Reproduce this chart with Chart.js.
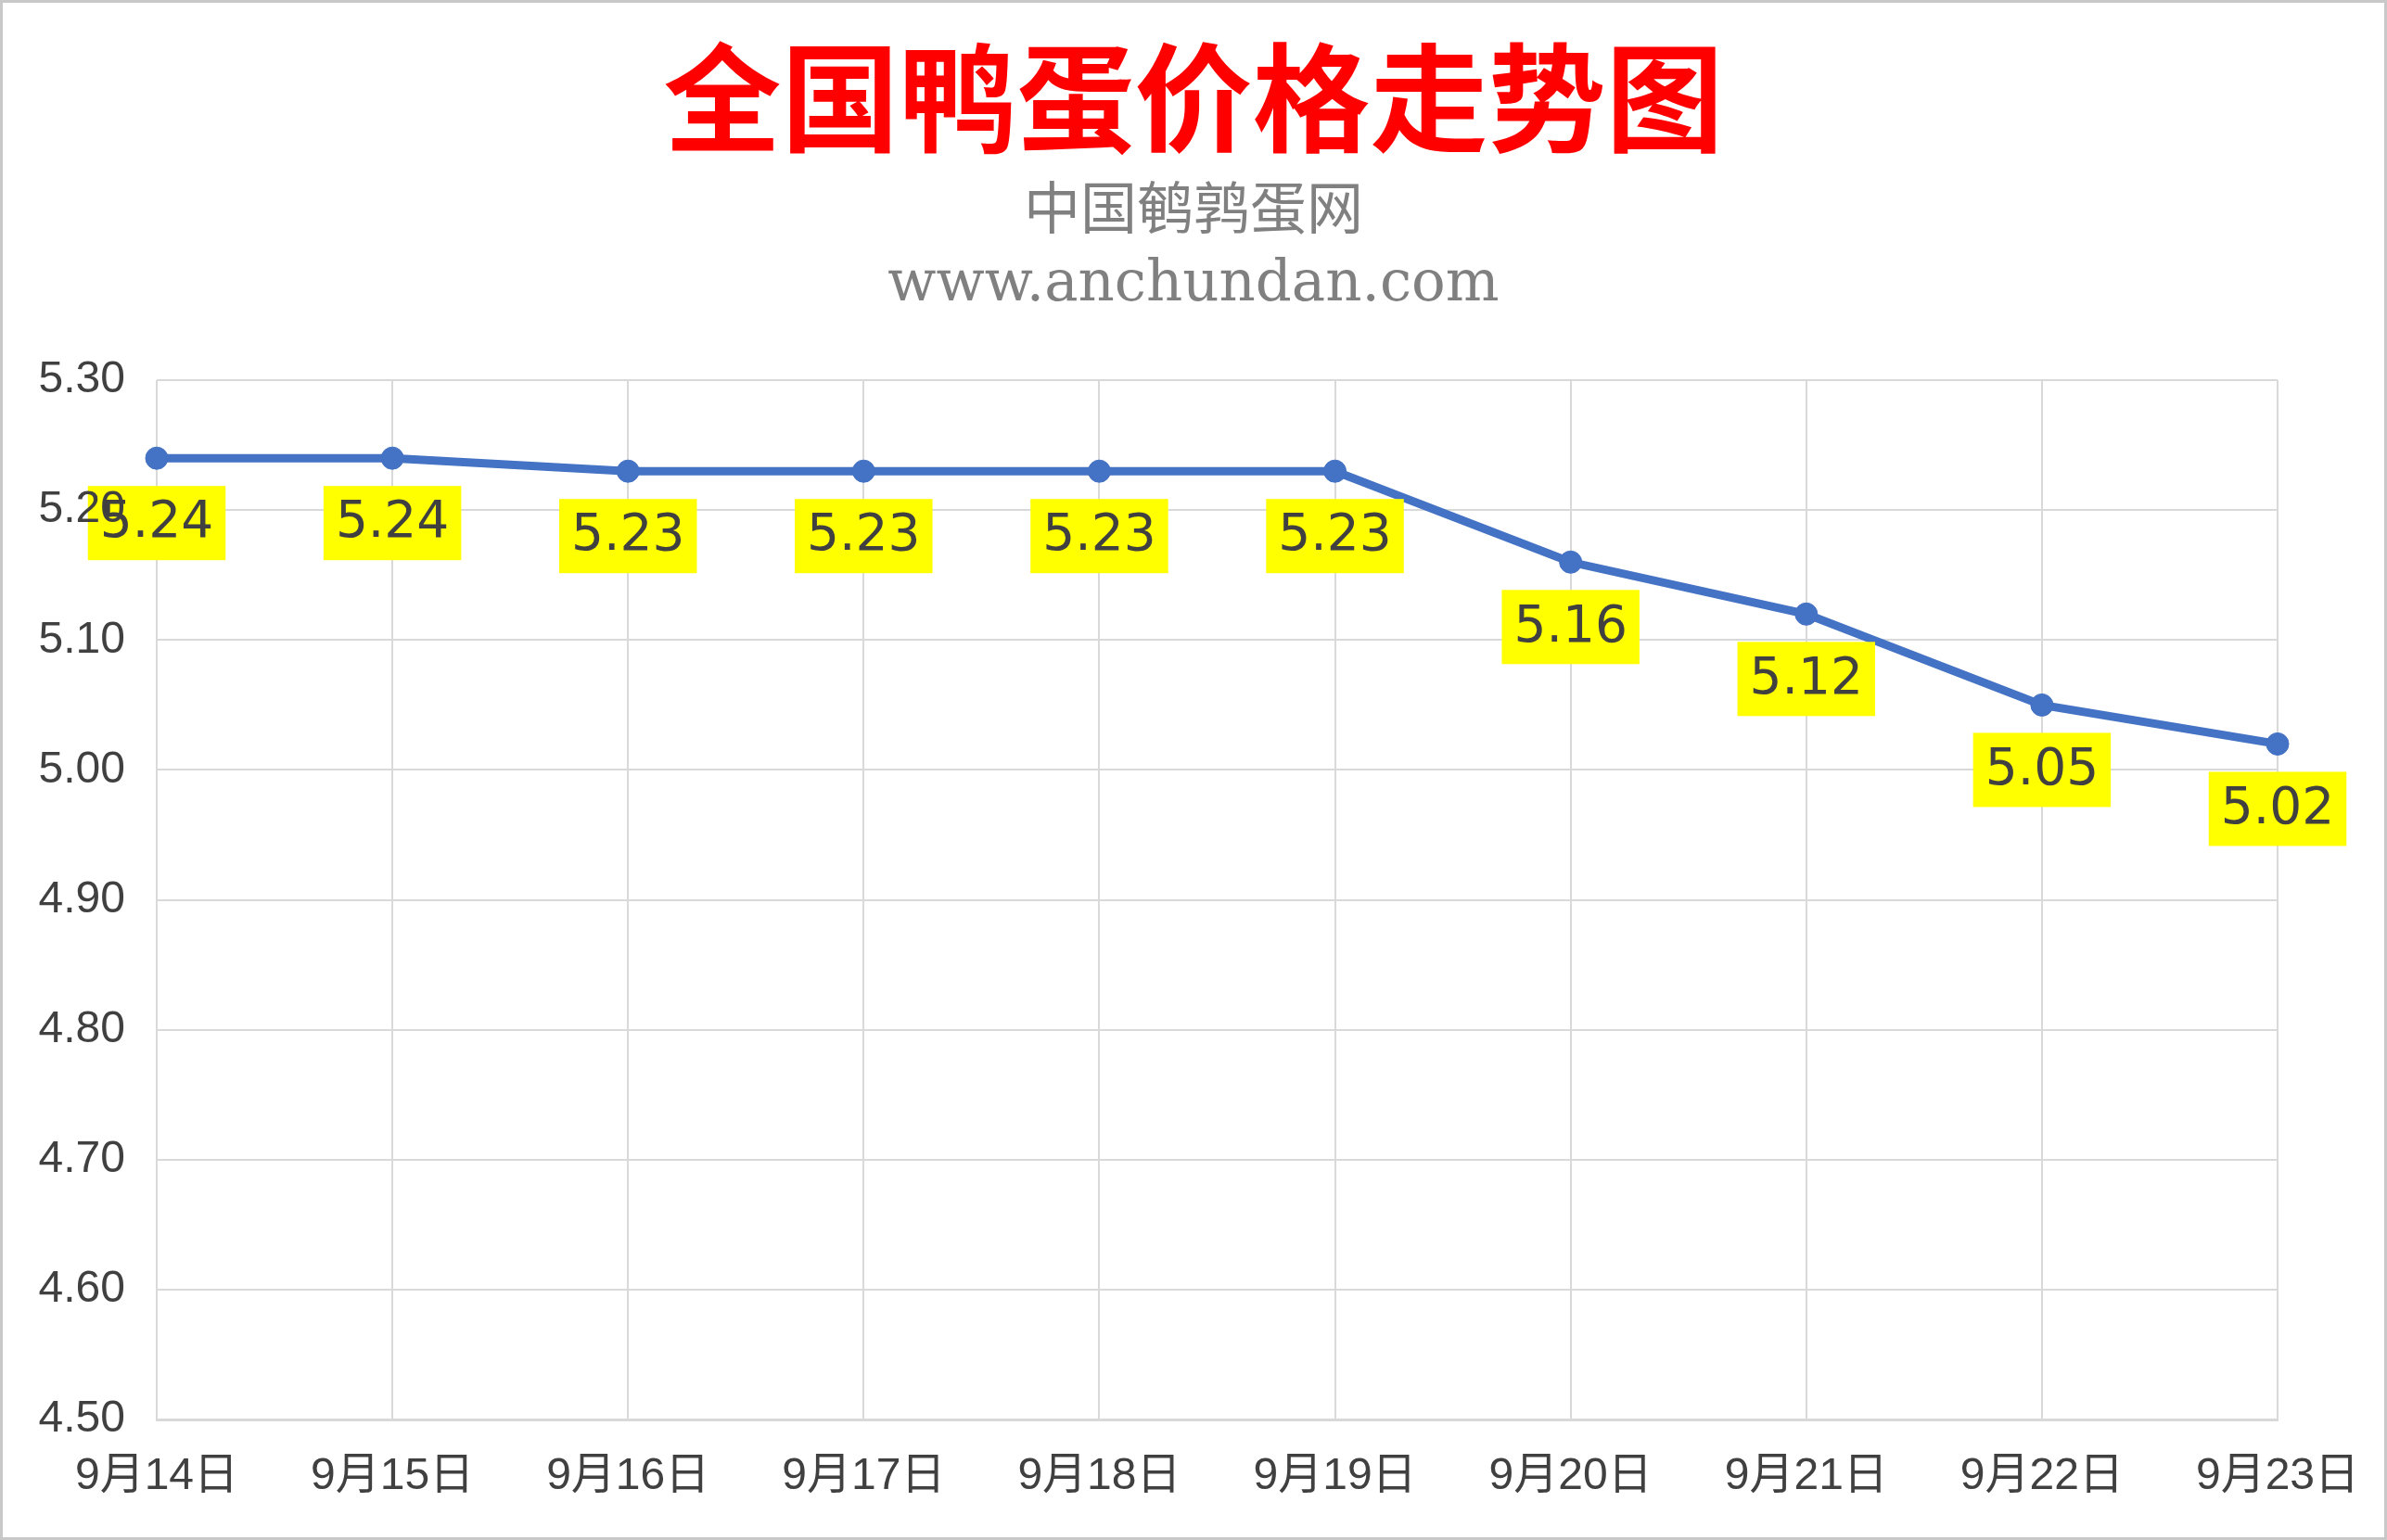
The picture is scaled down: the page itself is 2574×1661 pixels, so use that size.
<!DOCTYPE html>
<html lang="zh">
<head>
  <meta charset="UTF-8">
  <title>全国鸭蛋价格走势图</title>
  <script src="https://cdn.jsdelivr.net/npm/chart.js"></script>
  <style>
    html, body { margin: 0; padding: 0; background: #fff; }
    canvas { display: block; }
  </style>
</head>
<body>
  <canvas id="priceChart" width="2574" height="1661"></canvas>

  <script>
    // data
    const dates = ['9月14日', '9月15日', '9月16日', '9月17日', '9月18日',
                   '9月19日', '9月20日', '9月21日', '9月22日', '9月23日'];
    const prices = [5.24, 5.24, 5.23, 5.23, 5.23, 5.23, 5.16, 5.12, 5.05, 5.02];
    const yMin = 4.5;
    const yMax = 5.3;
    const yStep = 0.1;

    const titleText = '全国鸭蛋价格走势图';
    const subtitleLines = ['中国鹌鹑蛋网', 'www.anchundan.com'];

    // yellow value boxes under each point
    const valueLabels = {
      id: 'valueLabels',
      afterDatasetsDraw(chart) {
        const ctx = chart.ctx;
        const meta = chart.getDatasetMeta(0);
        ctx.save();
        ctx.font = '55px "DejaVu Sans", sans-serif';
        ctx.textAlign = 'center';
        ctx.textBaseline = 'middle';
        meta.data.forEach((pt, i) => {
          const txt = prices[i].toFixed(2);
          const w = ctx.measureText(txt).width + 26;
          const h = 80;
          const top = pt.y + 30;
          ctx.fillStyle = '#FFFF00';
          ctx.fillRect(pt.x - w / 2, top, w, h);
          ctx.fillStyle = '#404040';
          ctx.fillText(txt, pt.x, top + h / 2 + 1);
        });
        ctx.restore();
      }
    };

    const frame = {
      id: 'frame',
      beforeDraw(chart) {
        const ctx = chart.ctx;
        ctx.save();
        ctx.fillStyle = '#ffffff';
        ctx.fillRect(0, 0, chart.width, chart.height);
        ctx.restore();
      },
      afterDraw(chart) {
        const ctx = chart.ctx;
        ctx.save();
        ctx.strokeStyle = '#c8c8c8';
        ctx.lineWidth = 3;
        ctx.strokeRect(1.5, 1.5, chart.width - 3, chart.height - 3);
        ctx.restore();
      }
    };

    const ctx = document.getElementById('priceChart').getContext('2d');
    new Chart(ctx, {
      type: 'line',
      data: {
        labels: dates,
        datasets: [{
          data: prices,
          borderColor: '#4472C4',
          backgroundColor: '#4472C4',
          borderWidth: 9,
          pointRadius: 12,
          pointBorderWidth: 1,
          pointBackgroundColor: '#4472C4',
          pointBorderColor: '#4472C4',
          tension: 0,
          fill: false
        }]
      },
      options: {
        responsive: false,
        devicePixelRatio: 1,
        animation: false,
        layout: { padding: 0 },
        plugins: {
          legend: { display: false },
          tooltip: { enabled: false },
          title: {
            display: true,
            text: titleText,
            color: '#FF0000',
            font: { family: '"Noto Sans CJK SC", sans-serif', size: 127, weight: 'bold', lineHeight: 1.2 },
            padding: { top: 30, bottom: 10 }
          },
          subtitle: {
            display: true,
            text: subtitleLines,
            color: '#808080',
            font: { family: '"DejaVu Serif", "Noto Sans CJK SC", serif', size: 61, lineHeight: 1.26 },
            padding: { top: 0, bottom: 64 }
          }
        },
        scales: {
          x: {
            offset: false,
            grid: { color: '#d9d9d9', lineWidth: 2, drawTicks: false },
            border: { color: '#d9d9d9', width: 3 },
            ticks: {
              color: '#404040',
              padding: 33,
              maxRotation: 0,
              autoSkip: false,
              font: { family: '"Liberation Sans", "Noto Sans CJK SC", sans-serif', size: 48 }
            },
            afterFit(scale) {
              scale.height = 130;
              scale.paddingRight = 118;
            }
          },
          y: {
            min: yMin,
            max: yMax,
            grid: { color: '#d9d9d9', lineWidth: 2, drawTicks: false },
            border: { display: false },
            ticks: {
              z: 1,
              stepSize: yStep,
              color: '#404040',
              padding: 34,
              font: { family: '"Liberation Sans", sans-serif', size: 48 },
              callback: v => Number(v).toFixed(2)
            },
            afterFit(scale) { scale.width = 169; }
          }
        }
      },
      plugins: [frame, valueLabels]
    });
  </script>
</body>
</html>
